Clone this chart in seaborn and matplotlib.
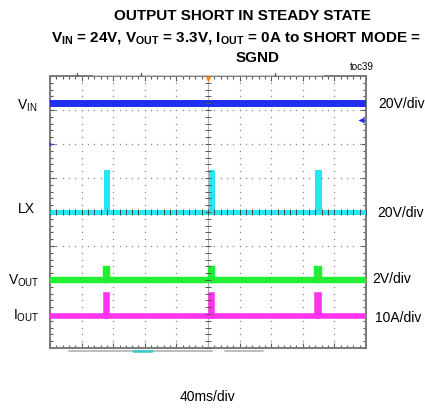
import numpy as np
import pandas as pd
import matplotlib
matplotlib.use("Agg")
import matplotlib.pyplot as plt
from matplotlib.lines import Line2D
import seaborn as sns

sns.set_style("white")
plt.rcParams["font.family"] = ["Liberation Sans", "DejaVu Sans"]
plt.rcParams["text.color"] = "black"
plt.rcParams["mathtext.fontset"] = "custom"
plt.rcParams["mathtext.rm"] = "Liberation Sans"
plt.rcParams["mathtext.bf"] = "Liberation Sans:bold"

# ---- capture settings -------------------------------------------------------
time_per_div_ms = 40
n_xdiv, n_ydiv = 10, 8

channels = ["VIN", "LX", "VOUT", "IOUT"]
volts_per_div = [20, 20, 2, 10]          # 20V/div, 20V/div, 2V/div, 10A/div
ground_div = [2.0, 0.0, -2.0, -3.05]     # channel ground markers (divisions)
trace_colors = ["#1f2ef0", "#26e6f2", "#22ee33", "#ff33ee"]
trace_widths = [5.0, 3.6, 4.6, 4.0]

# ---- waveforms (hiccup pulses during the output short) ----------------------
time_ms = [0, 70.5, 70.5, 72.0, 72.0, 203.5, 203.5, 205.0, 205.0,
           338.5, 338.5, 340.0, 340.0, 400]
vin_v   = [24, 24, 24, 24, 24, 24, 24, 24, 24, 24, 24, 24, 24, 24]
lx_v    = [0, 0, 23.5, 23.5, 0, 0, 23.5, 23.5, 0, 0, 23.5, 23.5, 0, 0]
vout_v  = [0, 0, 0.65, 0.65, 0, 0, 0.65, 0.65, 0, 0, 0.65, 0.65, 0, 0]
iout_a  = [0, 0, 6.0, 6.0, 0, 0, 6.0, 6.0, 0, 0, 6.0, 6.0, 0, 0]
values = [vin_v, lx_v, vout_v, iout_a]

frames = []
for name, vals, scale, gnd in zip(channels, values, volts_per_div, ground_div):
    frames.append(pd.DataFrame({
        "time": time_ms,
        "level": np.asarray(vals) / scale + gnd,
        "channel": name,
    }))
df = pd.concat(frames, ignore_index=True)

# ---- figure -----------------------------------------------------------------
W, H = 425, 409
fig = plt.figure(figsize=(W / 100, H / 100), dpi=100)
L, R, T, B = 50, 366, 76, 348
ax = fig.add_axes([L / W, 1 - B / H, (R - L) / W, (B - T) / H])
xmax = n_xdiv * time_per_div_ms
ax.set_xlim(0, xmax)
ax.set_ylim(-n_ydiv / 2, n_ydiv / 2)

def fx(px):
    return px / W

def fy(py):
    return 1 - py / H

# graticule dots
sub = 0.2
for i in range(1, n_xdiv):
    if i == n_xdiv // 2:
        continue
    ys = np.arange(-4, 4.001, sub)
    ax.plot(np.full_like(ys, i * time_per_div_ms), ys, ls="none", marker="s",
            ms=0.9, mec="none", mfc="#8a8a8a", zorder=1)
for j in range(1, n_ydiv):
    if j == n_ydiv // 2:
        continue
    xs = np.arange(0, xmax + 0.01, sub * time_per_div_ms)
    ax.plot(xs, np.full_like(xs, j - 4.0), ls="none", marker="s",
            ms=0.9, mec="none", mfc="#8a8a8a", zorder=1)

# center cross-hair
ax.axvline(xmax / 2, color="#b0b0b0", lw=0.8, zorder=1)
ax.axhline(0, color="#b0b0b0", lw=0.8, zorder=1)

# traces
for name, col, lw in zip(channels, trace_colors, trace_widths):
    sns.lineplot(data=df[df["channel"] == name], x="time", y="level",
                 estimator=None, sort=False, color=col, lw=lw, ax=ax,
                 legend=False, zorder=3, solid_joinstyle="miter")

# sub-division ticks on the cross-hair
ys = np.arange(-4, 4.001, sub)
ax.plot(np.full_like(ys, xmax / 2), ys, ls="none", marker="_", ms=4.0,
        mew=0.7, color="#555555", zorder=4)
xs = np.arange(0, xmax + 0.01, sub * time_per_div_ms)
ax.plot(xs, np.zeros_like(xs), ls="none", marker="|", ms=4.0,
        mew=0.7, color="#3a4a4a", zorder=4)

# frame and ticks
for s in ax.spines.values():
    s.set_color("#7a7a7a")
    s.set_linewidth(1.4)
ax.set_xticks(np.arange(0, xmax + 0.01, time_per_div_ms))
ax.set_xticks(np.arange(0, xmax + 0.01, sub * time_per_div_ms), minor=True)
ax.set_yticks(np.arange(-4, 4.01, 1))
ax.set_yticks(np.arange(-4, 4.01, sub), minor=True)
ax.tick_params(which="both", direction="in", top=True, right=True,
               bottom=True, left=True, labelbottom=False, labelleft=False,
               color="#5a5a5a", width=0.8)
ax.tick_params(which="major", length=3.5)
ax.tick_params(which="minor", length=2.0)
ax.set_xlabel("")
ax.set_ylabel("")

# trigger position and level markers
ax.plot([xmax / 2], [3.9], marker="v", ms=5, color="#ff8c1a", mec="none",
        clip_on=False, zorder=6)
ax.plot([393.5], [2.7], marker="<", ms=4, color="#1f2ef0", mec="none",
        clip_on=False, zorder=6)
ax.plot([394, 398], [2.7, 2.7], color="#1f2ef0", lw=1.0, zorder=6)
for gnd, col in zip(ground_div, trace_colors):
    ax.plot([1.5], [gnd], marker=">", ms=3, color=col, alpha=0.7, mec="none",
            clip_on=False, zorder=6)

# record / memory bars outside the grid
fig.add_artist(Line2D([fx(93), fx(323)], [fy(74.5), fy(74.5)],
                      color="#c8c8c8", lw=0.8))
for px in (77, 141, 275):
    fig.add_artist(Line2D([fx(px), fx(px)], [fy(73), fy(75.5)],
                          color="#555555", lw=0.9))
fig.add_artist(Line2D([fx(69), fx(212)], [fy(350.5), fy(350.5)],
                      color="#bdbdbd", lw=1.4))
fig.add_artist(Line2D([fx(225), fx(263)], [fy(350.5), fy(350.5)],
                      color="#bdbdbd", lw=1.4))
fig.add_artist(Line2D([fx(133), fx(152)], [fy(350.5), fy(350.5)],
                      color="#33cccc", lw=1.8))

# title
fig.text(fx(242), fy(20), "OUTPUT SHORT IN STEADY STATE", ha="center",
         va="baseline", fontsize=11, fontweight="bold")
fig.text(fx(236), fy(41.5),
         r"$\mathbf{V_{IN}}$ = 24V, $\mathbf{V_{OUT}}$ = 3.3V, "
         r"$\mathbf{I_{OUT}}$ = 0A to SHORT MODE =",
         ha="center", va="baseline", fontsize=11, fontweight="bold")
fig.text(fx(258), fy(61.5), "SGND", ha="center", va="baseline",
         fontsize=11, fontweight="bold")
fig.text(fx(362), fy(70), "toc39", ha="center", va="baseline", fontsize=7)

# channel names
fig.text(fx(27), fy(110), r"V$_{\rm IN}$", ha="center", va="baseline", fontsize=10)
fig.text(fx(26.5), fy(213), "LX", ha="center", va="baseline", fontsize=10)
fig.text(fx(23.5), fy(285), r"V$_{\rm OUT}$", ha="center", va="baseline", fontsize=10)
fig.text(fx(26.5), fy(320), r"I$_{\rm OUT}$", ha="center", va="baseline", fontsize=10)

# vertical scales
fig.text(fx(378), fy(108), "20V/div", ha="left", va="baseline", fontsize=10)
fig.text(fx(377), fy(217), "20V/div", ha="left", va="baseline", fontsize=10)
fig.text(fx(372), fy(283), "2V/div", ha="left", va="baseline", fontsize=10)
fig.text(fx(375), fy(322), "10A/div", ha="left", va="baseline", fontsize=10)

# time base
fig.text(fx(208), fy(401), f"{time_per_div_ms}ms/div", ha="center",
         va="baseline", fontsize=10)

fig.savefig("out.png", dpi=100)
